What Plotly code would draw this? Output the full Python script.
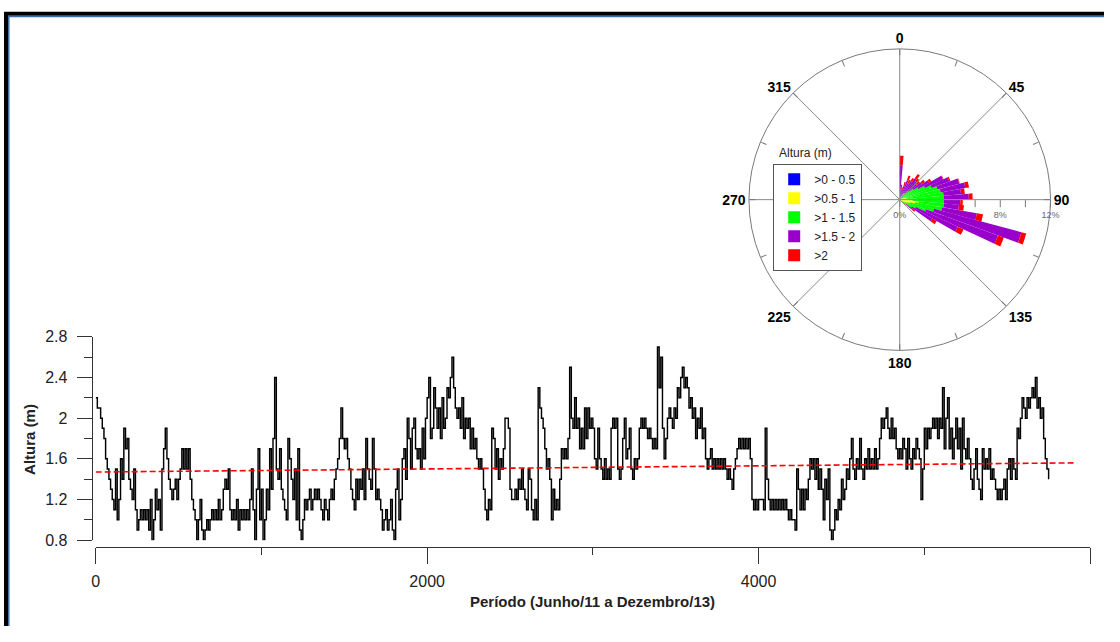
import numpy as np
import plotly.graph_objects as go

# ---------------- Série temporal de altura (m), um valor a cada 10 registros ----------------
passo = 10
altura = [
    # 0 - 1010
    2.2, 2.1, 2.1, 2.0, 1.9, 1.8, 1.6, 1.5, 1.4, 1.3,
    1.2, 1.1, 1.5, 1.0, 1.2, 1.6, 1.4, 1.9, 1.7, 1.8,
    1.4, 1.3, 1.2, 1.5, 1.1, 0.9, 1.0, 1.1, 1.0, 1.1,
    1.0, 1.1, 0.9, 1.2, 0.8, 1.0, 1.3, 1.1, 1.2, 0.9,
    1.5, 1.7, 1.9, 1.6, 1.4, 1.3, 1.2, 1.3, 1.4, 1.2,
    1.4, 1.5, 1.7, 1.5, 1.7, 1.5, 1.7, 1.4, 1.2, 1.1,
    1.0, 0.8, 1.0, 1.2, 0.9, 0.8, 0.9, 1.0, 0.9, 1.0,
    1.1, 1.0, 1.1, 1.0, 1.2, 1.0, 1.1, 1.3, 1.4, 1.3,
    1.5, 1.1, 1.0, 1.1, 1.0, 1.2, 0.9, 1.1, 1.0, 1.1,
    1.0, 1.1, 1.0, 1.2, 1.5, 1.1, 0.8, 1.3, 1.7, 1.0,
    1.3, 0.8,
    # 1020 - 2010
    1.0, 1.3, 1.1, 1.7, 1.3, 1.8, 2.4, 1.5, 1.4, 1.7,
    1.3, 1.2, 1.1, 1.0, 1.8, 1.6, 1.4, 1.2, 1.5, 1.0,
    1.7, 0.9, 0.8, 1.0, 1.2, 1.1, 1.2, 1.3, 1.1, 1.2,
    1.3, 1.2, 1.3, 1.2, 1.1, 1.0, 1.2, 1.1, 1.0, 1.2,
    1.3, 1.2, 1.4, 1.5, 1.6, 1.8, 2.1, 1.8, 1.7, 1.8,
    1.6, 1.5, 1.3, 1.2, 1.1, 1.4, 1.2, 1.4, 1.3, 1.5,
    1.2, 1.8, 1.5, 1.4, 1.3, 1.8, 1.5, 1.2, 1.3, 1.2,
    1.1, 0.9, 1.0, 1.1, 0.9, 1.0, 1.2, 0.9, 0.8, 1.3,
    1.5, 1.0, 1.2, 1.6, 1.7, 1.4, 2.0, 1.8, 1.5, 1.9,
    2.0, 1.7, 1.6, 1.7, 1.5, 1.9, 1.6, 2.0, 2.2, 2.4,
    # 2020 - 3010
    1.8, 1.9, 2.3, 2.1, 1.9, 2.1, 1.8, 2.2, 1.9, 2.0,
    2.3, 2.2, 2.4, 2.6, 2.3, 2.1, 2.0, 2.1, 1.9, 2.2,
    1.8, 2.0, 1.9, 2.0, 1.7, 1.9, 1.7, 1.8, 1.6, 1.5,
    1.6, 1.5, 1.3, 1.1, 1.0, 1.2, 1.1, 1.9, 1.8, 1.5,
    1.7, 1.4, 1.6, 1.5, 1.7, 2.0, 2.0, 1.9, 1.3, 1.2,
    1.2, 1.3, 1.2, 1.4, 1.3, 1.5, 1.3, 1.2, 1.1, 1.5,
    1.4, 1.1, 1.0, 1.2, 1.0, 2.3, 2.1, 2.0, 1.9, 1.7,
    1.5, 1.6, 1.4, 1.0, 1.3, 1.1, 1.2, 1.1, 1.4, 1.7,
    1.6, 1.7, 1.6, 1.8, 2.5, 2.0, 1.9, 2.2, 1.9, 2.0,
    1.7, 1.9, 1.7, 2.1, 1.8, 2.1, 1.9, 2.0, 1.9, 1.6,
    # 3020 - 4010
    1.5, 1.9, 1.6, 1.5, 1.4, 1.6, 1.4, 1.5, 1.4, 1.9,
    2.0, 1.9, 2.0, 1.5, 1.4, 1.5, 1.8, 2.0, 1.6, 1.7,
    1.9, 1.5, 1.4, 1.6, 1.5, 1.6, 1.9, 2.0, 1.9, 2.0,
    1.9, 1.8, 1.9, 1.8, 1.7, 1.8, 1.7, 2.7, 2.3, 2.6,
    1.9, 1.6, 1.8, 2.0, 2.1, 2.0, 1.9, 2.1, 2.0, 2.3,
    2.2, 2.4, 2.5, 2.3, 2.4, 2.3, 2.1, 2.2, 2.0, 2.1,
    1.8, 2.0, 1.9, 2.1, 1.8, 1.9, 1.6, 1.5, 1.6, 1.7,
    1.5, 1.6, 1.5, 1.6, 1.5, 1.6, 1.5, 1.6, 1.5, 1.4,
    1.5, 1.4, 1.3, 1.5, 1.6, 1.7, 1.8, 1.7, 1.8, 1.7,
    1.8, 1.7, 1.8, 1.6, 1.2, 1.1, 1.2, 1.1, 1.2, 1.2,
    # 4020 - 5000
    1.2, 1.1, 1.9, 1.4, 1.2, 1.1, 1.2, 1.1, 1.2, 1.1,
    1.2, 1.1, 1.2, 1.1, 1.2, 1.1, 1.0, 1.1, 1.0, 1.0,
    0.9, 1.5, 1.3, 1.1, 1.3, 1.1, 1.3, 1.2, 1.4, 1.6,
    1.5, 1.6, 1.4, 1.6, 1.3, 1.5, 1.3, 1.0, 1.4, 1.2,
    1.5, 0.9, 0.8, 0.9, 1.1, 1.0, 1.2, 1.1, 1.4, 1.2,
    1.3, 1.5, 1.4, 1.6, 1.8, 1.5, 1.4, 1.6, 1.5, 1.8,
    1.5, 1.4, 1.6, 1.5, 1.7, 1.5, 1.6, 1.5, 1.7, 1.5,
    1.6, 1.8, 2.0, 1.9, 2.0, 2.1, 1.9, 1.8, 2.0, 1.8,
    1.9, 1.7, 1.6, 1.7, 1.6, 1.8, 1.7, 1.5, 1.8, 1.6,
    1.5, 1.7, 1.6, 1.8, 1.7, 1.6, 1.2, 1.5, 1.9,
    # 5010 - 5750
    1.7, 1.9, 1.8, 1.9, 2.0, 1.9, 2.0, 1.8, 2.0, 1.9,
    2.3, 1.7, 2.0, 2.2, 1.7, 1.9, 1.6, 1.8, 2.0, 1.7,
    1.9, 1.5, 2.0, 1.7, 1.6, 1.8, 1.6, 1.4, 1.3, 1.5,
    1.7, 1.4, 1.3, 1.2, 1.7, 1.5, 1.6, 1.5, 1.7, 1.4,
    1.5, 1.4, 1.3, 1.2, 1.3, 1.2, 1.3, 1.4, 1.2, 1.5,
    1.6, 1.4, 1.6, 1.5, 1.4, 1.9, 1.8, 2.0, 2.2, 2.1,
    2.0, 2.2, 2.1, 2.2, 2.3, 2.2, 2.4, 2.1, 2.2, 2.0,
    2.1, 1.8, 1.6, 1.5, 1.4,
]
registro = np.arange(len(altura)) * passo

# Linha de tendência (extremos)
tendencia_x = [0, 5900]
tendencia_y = [1.47, 1.56]

# ---------------- Rosa de direção (% de ocorrência por classe de altura) ----------------
direcao = [2.5, 7.5, 12.5, 17.5, 22.5, 27.5, 32.5, 37.5, 42.5, 47.5,
           52.5, 57.5, 62.5, 67.5, 72.5, 77.5, 82.5, 87.5, 92.5, 97.5,
           102.5, 107.5, 112.5, 117.5, 122.5, 127.5, 132.5]
classe_0_05 = [0.0, 0.0, 0.0, 0.0, 0.0, 0.0, 0.0, 0.0, 0.0, 0.0,
               0.0, 0.0, 0.0, 0.0, 0.0, 0.0, 0.0, 0.0, 0.02, 0.03,
               0.03, 0.02, 0.02, 0.0, 0.0, 0.0, 0.0]
classe_05_1 = [0.0, 0.0, 0.0, 0.05, 0.05, 0.05, 0.1, 0.1, 0.1, 0.1,
               0.15, 0.2, 0.2, 0.3, 0.4, 0.5, 0.6, 0.8, 1.0, 1.5,
               1.2, 0.8, 0.6, 0.4, 0.3, 0.2, 0.1]
classe_1_15 = [0.1, 0.1, 0.1, 0.2, 0.3, 0.4, 0.5, 0.6, 0.8, 0.9,
               1.2, 1.5, 2.0, 2.4, 2.7, 2.8, 2.9, 2.7, 2.5, 2.0,
               2.2, 2.0, 1.6, 1.0, 0.8, 0.4, 0.2]
classe_15_2 = [2.6, 0.9, 0.7, 0.9, 1.3, 1.0, 1.1, 1.4, 1.0, 0.8,
               0.8, 1.0, 1.6, 1.5, 1.8, 2.0, 1.4, 2.0, 1.3, 1.2,
               2.8, 7.2, 6.1, 3.7, 1.9, 0.6, 0.2]
classe_2 = [0.8, 0.2, 0.2, 0.3, 0.4, 0.3, 0.3, 0.4, 0.3, 0.3,
            0.3, 0.2, 0.05, 0.1, 0.05, 0.3, 0.3, 0.3, 0.2, 0.4,
            0.5, 0.4, 0.5, 0.5, 0.4, 0.3, 0.1]

classes = [
    (">0 - 0.5", classe_0_05, "#0000FF"),
    (">0.5 - 1", classe_05_1, "#FFFF00"),
    (">1 - 1.5", classe_1_15, "#00FF00"),
    (">1.5 - 2", classe_15_2, "#9900CC"),
    (">2", classe_2, "#FF0000"),
]

rotulos_direcao = [0, 45, 90, 135, 180, 225, 270, 315]
faixa_radial = [0, 12]

# Página: a figura ocupa 1104x626 dentro da margem padrão (8 px) do <body>
OFF = 8
W, H = 1104, 626


def px(v):
    return (v - OFF) / W


def py(v):
    return 1 - (v - OFF) / H


fig = go.Figure()

# Raios da rosa (sob as pétalas)
r_raios, t_raios = [], []
for a in rotulos_direcao:
    r_raios += [0, faixa_radial[1], None]
    t_raios += [a, a, None]
fig.add_trace(go.Scatterpolar(r=r_raios, theta=t_raios, mode="lines",
                              line=dict(color="#8a8a8a", width=1),
                              showlegend=False, hoverinfo="skip"))

for nome, valores, cor in classes:
    fig.add_trace(go.Barpolar(r=valores, theta=direcao, width=5, name=nome,
                              marker=dict(color=cor, line=dict(width=0))))

# Série temporal
fig.add_trace(go.Scatter(x=registro, y=altura, mode="lines", line_shape="hv",
                         line=dict(color="black", width=1.45), showlegend=False))
fig.add_trace(go.Scatter(x=tendencia_x, y=tendencia_y, mode="lines",
                         line=dict(color="#FF0000", width=1.6, dash="6px,3px"),
                         showlegend=False))

tick_ang = [i * 22.5 for i in range(16)]
txt_ang = [str(int(v)) if v % 45 == 0 else "" for v in tick_ang]

fonte = "Arial, Liberation Sans, sans-serif"

fig.update_layout(
    width=W, height=H,
    margin=dict(l=0, r=0, t=0, b=0),
    paper_bgcolor="white",
    plot_bgcolor="rgba(0,0,0,0)",
    font=dict(family=fonte, color="#222"),
    polar=dict(
        domain=dict(x=[px(752), px(1062)], y=[py(360), py(50)]),
        bgcolor="white",
        barmode="stack",
        angularaxis=dict(
            rotation=90, direction="clockwise",
            tickmode="array", tickvals=tick_ang, ticktext=txt_ang,
            ticks="inside", ticklen=6, tickcolor="#777",
            showgrid=False, showline=True, linecolor="#7a7a7a", linewidth=1,
            tickfont=dict(family=fonte, size=14, color="black", weight="bold"),
        ),
        radialaxis=dict(
            range=faixa_radial, angle=0, side="clockwise",
            tickmode="array", tickvals=[0, 2, 4, 6, 8, 10, 12],
            ticktext=["0%", "", "4%", "", "8%", "", "12%"],
            ticks="outside", ticklen=7, tickcolor="#777",
            showgrid=False, showline=False, layer="below traces",
            tickfont=dict(size=9, color="#666"),
        ),
    ),
    legend=dict(
        x=px(780), y=py(168), xanchor="left", yanchor="top",
        bgcolor="white", bordercolor="#555", borderwidth=1,
        font=dict(size=12, color="#222"), traceorder="normal",
        tracegroupgap=0, itemwidth=30,
    ),
    xaxis=dict(
        domain=[px(100), px(1098)], range=[0, 6000],
        anchor="free", position=py(562),
        showline=True, linecolor="#333", linewidth=1,
        ticks="outside", ticklen=16, tickcolor="#333",
        tickmode="array", tickvals=[0, 2000, 4000, 6000],
        tickfont=dict(size=16, color="#222"), ticklabelstandoff=4,
        minor=dict(tickmode="array", tickvals=[1000, 3000, 5000],
                   ticks="outside", ticklen=7, tickcolor="#333"),
        showgrid=False, zeroline=False,
    ),
    yaxis=dict(
        domain=[py(555), py(346)], range=[0.8, 2.8],
        anchor="free", position=px(96),
        showline=True, linecolor="#333", linewidth=1,
        ticks="outside", ticklen=15, tickcolor="#333",
        tick0=0.8, dtick=0.4,
        tickfont=dict(size=16, color="#222"), ticklabelstandoff=6,
        minor=dict(dtick=0.2, tick0=0.8, ticks="outside", ticklen=8,
                   tickcolor="#333"),
        showgrid=False, zeroline=False,
    ),
    annotations=[
        dict(text="Altura (m)", x=px(34), y=py(451), xref="paper", yref="paper",
             xanchor="center", yanchor="middle",
             textangle=-90, showarrow=False,
             font=dict(size=15, color="#222", weight="bold")),
        dict(text="Período (Junho/11 a Dezembro/13)", x=px(599), y=py(618),
             xref="paper", yref="paper", xanchor="center", yanchor="middle",
             showarrow=False, font=dict(size=15, color="#222", weight="bold")),
        dict(text="Altura (m)", x=px(812), y=py(157), xref="paper", yref="paper",
             xanchor="center", yanchor="middle",
             showarrow=False, font=dict(size=12, color="#222")),
    ],
    shapes=[
        dict(type="rect", xref="paper", yref="paper",
             x0=px(10), y0=py(14), x1=px(1150), y1=py(690),
             line=dict(color="black", width=4)),
        dict(type="rect", xref="paper", yref="paper",
             x0=px(12.8), y0=py(16.8), x1=px(1147), y1=py(687),
             line=dict(color="#3f6ea6", width=1.5)),
    ],
)

fig.write_html("out.html")
